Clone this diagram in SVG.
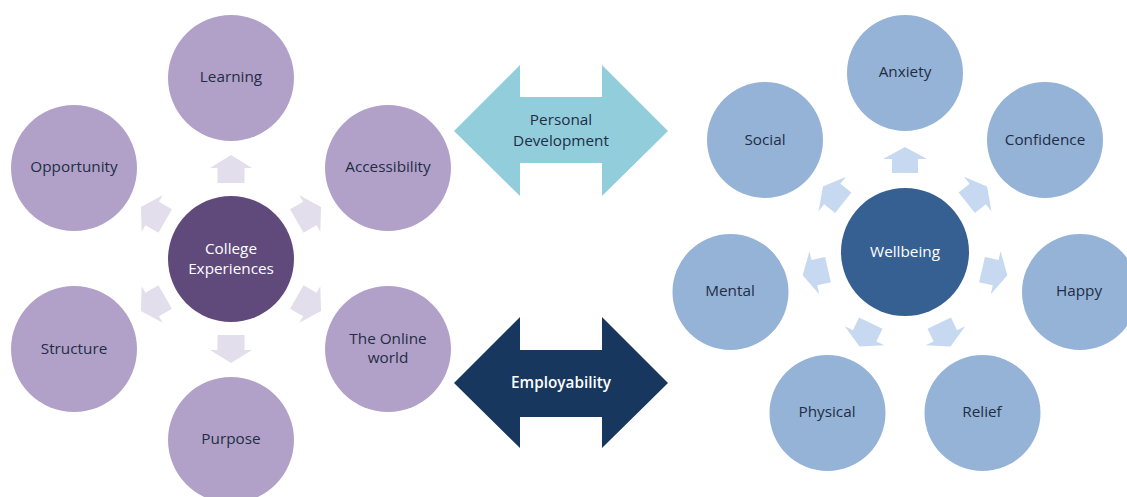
<svg xmlns="http://www.w3.org/2000/svg" width="1127" height="497" viewBox="0 0 1127 497">
<defs>
<style>
.lc{fill:#B1A1C8}
.lcc{fill:#604A7B}
.la{fill:#E3DEEC}
.rc{fill:#95B3D7}
.rcc{fill:#366092}
.ra{fill:#C6D9F1}
text{font-family:"Open Sans","Noto Sans",sans-serif;font-size:15.3px;text-anchor:middle;dominant-baseline:central;fill:#1F2D45}
.w{fill:#FFFFFF}
.b{font-weight:600}
</style>
<path id="larr" d="M0,-104 L21,-91 L13.5,-91 L13.5,-76 L-13.5,-76 L-13.5,-91 L-21,-91 Z"/>
<path id="rarr" d="M0,-105 L22,-93 L13,-93 L13,-79 L-13,-79 L-13,-93 L-22,-93 Z"/>
</defs>
<rect width="1127" height="497" fill="#FFFFFF"/>
<g id="connectors">
<g class="la" transform="translate(231,259)">
<use href="#larr"/>
<use href="#larr" transform="rotate(60)"/>
<use href="#larr" transform="rotate(120)"/>
<use href="#larr" transform="rotate(180)"/>
<use href="#larr" transform="rotate(240)"/>
<use href="#larr" transform="rotate(300)"/>
</g>
<g class="ra" transform="translate(905,252)">
<use href="#rarr"/>
<use href="#rarr" transform="rotate(51.43)"/>
<use href="#rarr" transform="rotate(102.86)"/>
<use href="#rarr" transform="rotate(154.29)"/>
<use href="#rarr" transform="rotate(205.71)"/>
<use href="#rarr" transform="rotate(257.14)"/>
<use href="#rarr" transform="rotate(308.57)"/>
</g>
</g>
<g id="personal-development">
<path d="M454,131 L520,65 L520,97 L602,97 L602,65 L668,131 L602,196 L602,163 L520,163 L520,196 Z" fill="#92CDDC"/>
<text x="561" y="119">Personal</text>
<text x="561" y="140">Development</text>
</g>
<g id="employability">
<path d="M454,383 L520,317 L520,350 L602,350 L602,317 L668,383 L602,448 L602,417 L520,417 L520,448 Z" fill="#17375E"/>
<text class="w b" x="561" y="382">Employability</text>
</g>
<g id="college-experiences"><circle class="lcc" cx="231" cy="259" r="63"/><text class="w" x="231" y="248">College</text><text class="w" x="231" y="268">Experiences</text></g>
<g id="learning"><circle class="lc" cx="231" cy="78" r="63"/><text x="231" y="76">Learning</text></g>
<g id="accessibility"><circle class="lc" cx="388" cy="168" r="63"/><text x="388" y="166">Accessibility</text></g>
<g id="online-world"><circle class="lc" cx="388" cy="349" r="63"/><text x="388" y="338">The Online</text><text x="388" y="357">world</text></g>
<g id="purpose"><circle class="lc" cx="231" cy="440" r="63"/><text x="231" y="438">Purpose</text></g>
<g id="structure"><circle class="lc" cx="74" cy="349" r="63"/><text x="74" y="348">Structure</text></g>
<g id="opportunity"><circle class="lc" cx="74" cy="168" r="63"/><text x="74" y="166">Opportunity</text></g>
<g id="wellbeing"><circle class="rcc" cx="905" cy="252" r="64"/><text class="w" x="905" y="251">Wellbeing</text></g>
<g id="anxiety"><circle class="rc" cx="905" cy="73" r="58"/><text x="905" y="71">Anxiety</text></g>
<g id="confidence"><circle class="rc" cx="1045" cy="140" r="58"/><text x="1045" y="139">Confidence</text></g>
<g id="happy"><circle class="rc" cx="1080" cy="292" r="58"/><text x="1079" y="290">Happy</text></g>
<g id="relief"><circle class="rc" cx="982.5" cy="413" r="58"/><text x="982" y="411">Relief</text></g>
<g id="physical"><circle class="rc" cx="827.5" cy="413" r="58"/><text x="827" y="411">Physical</text></g>
<g id="mental"><circle class="rc" cx="730.5" cy="292" r="58"/><text x="730" y="290">Mental</text></g>
<g id="social"><circle class="rc" cx="765" cy="140" r="58"/><text x="765" y="139">Social</text></g>
</svg>
